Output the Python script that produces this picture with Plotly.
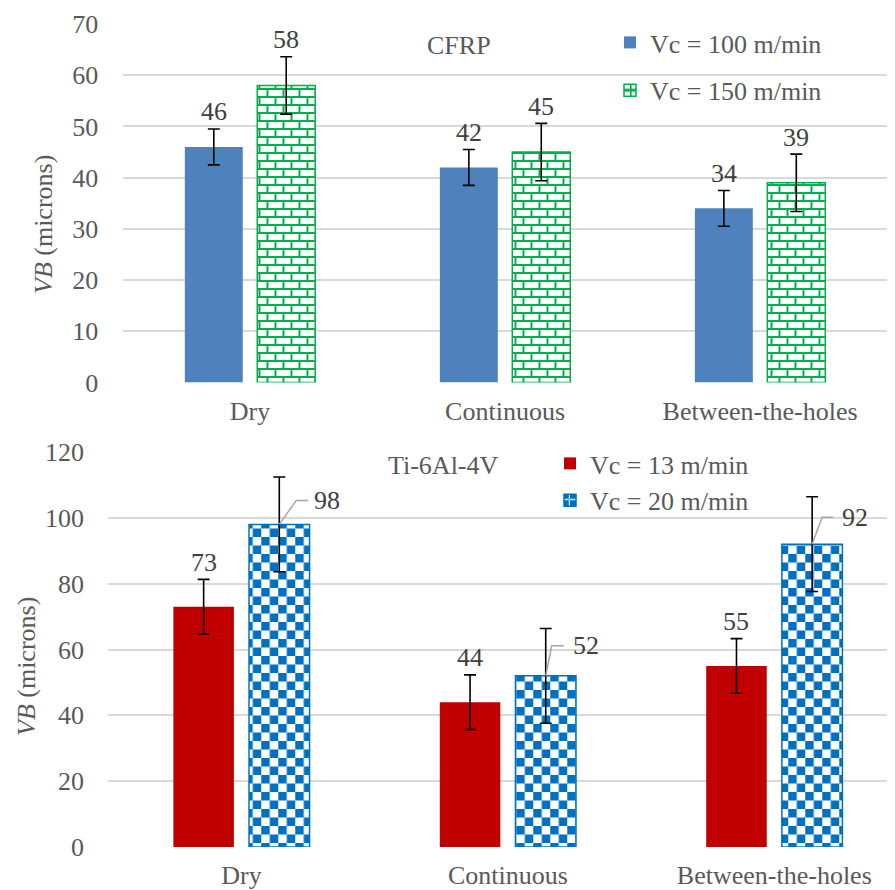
import plotly.graph_objects as go

# ---------------- data ----------------
categories = ["Dry", "Continuous", "Between-the-holes"]

cfrp_vc100 = [46, 42, 34]
cfrp_vc100_err = [3.5, 3.5, 3.5]
cfrp_vc150 = [58, 45, 39]
cfrp_vc150_err = [5.6, 5.6, 5.6]

ti_vc13 = [73, 44, 55]
ti_vc13_err = [8.3, 8.3, 8.3]
ti_vc20 = [98, 52, 92]
ti_vc20_err = [14.4, 14.4, 14.4]

cfrp_ticks = [0, 10, 20, 30, 40, 50, 60, 70]
ti_ticks = [0, 20, 40, 60, 80, 100, 120]

# ---------------- styles ----------------
FONT = "Liberation Serif, Times New Roman, serif"
FS = 26
TICKC = "#595959"
LABELC = "#404040"
GRID = "#D9D9D9"
BLUE = "#4F81BD"
GREEN = "#00B050"
RED = "#C00000"
CHECK = "#0070C0"
SLOT = 0.142  # half distance between the two bars of a group (axis units)

# page body has an 8px margin: figure sized to fill the rest of the 895x890 window
OFF = 8
W, H = 895 - OFF, 890 - OFF


def px(x):
    return (x - OFF) / W


def py(y):
    return 1 - (y - OFF) / H


def make_pattern(path, fallback_shape, color, size):
    try:
        p = go.bar.marker.Pattern(path=path, fgcolor=color, bgcolor="white",
                                  fillmode="replace", size=size)
    except Exception:
        p = go.bar.marker.Pattern(shape=fallback_shape, fgcolor=color, bgcolor="white",
                                  fillmode="replace", size=9, solidity=0.4)
    return p


brick = make_pattern("M0,0H16V2H0Z M0,8H16V10H0Z M0,2H2V8H0Z M8,10H10V16H8Z",
                     "+", GREEN, 16)
checker = make_pattern("M0,0H8.5V8.5H0Z M8.5,8.5H17V17H8.5Z", "x", CHECK, 17)

fig = go.Figure()

err_style = dict(type="data", visible=True, color="#000000", thickness=1.6, width=6)

fig.add_trace(go.Bar(x=categories, y=cfrp_vc100, name="Vc = 100 m/min",
                     marker=dict(color=BLUE, line=dict(width=0)),
                     error_y=dict(array=cfrp_vc100_err, **err_style),
                     xaxis="x", yaxis="y", legend="legend", legendgroup="a"))
fig.add_trace(go.Bar(x=categories, y=cfrp_vc150, name="Vc = 150 m/min",
                     marker=dict(color=GREEN, pattern=brick, line=dict(color=GREEN, width=1.5)),
                     error_y=dict(array=cfrp_vc150_err, **err_style),
                     xaxis="x", yaxis="y", legend="legend", legendgroup="b"))
fig.add_trace(go.Bar(x=categories, y=ti_vc13, name="Vc = 13 m/min",
                     marker=dict(color=RED, line=dict(width=0)),
                     error_y=dict(array=ti_vc13_err, **err_style),
                     xaxis="x2", yaxis="y2", legend="legend2", legendgroup="c"))
fig.add_trace(go.Bar(x=categories, y=ti_vc20, name="Vc = 20 m/min",
                     marker=dict(color=CHECK, pattern=checker, line=dict(color=CHECK, width=1.5)),
                     error_y=dict(array=ti_vc20_err, **err_style),
                     xaxis="x2", yaxis="y2", legend="legend2", legendgroup="d"))

annotations = []
shapes = []

lab_font = dict(family=FONT, size=FS, color=LABELC)


def add_labels(vals, errs, xref, yref, side):
    for i, (v, e) in enumerate(zip(vals, errs)):
        annotations.append(dict(x=i + side * SLOT, y=v + e, xref=xref, yref=yref,
                                text=str(v), showarrow=False, yshift=17,
                                xanchor="center", yanchor="middle", font=lab_font))


add_labels(cfrp_vc100, cfrp_vc100_err, "x", "y", -1)
add_labels(cfrp_vc150, cfrp_vc150_err, "x", "y", +1)
add_labels(ti_vc13, ti_vc13_err, "x2", "y2", -1)

# leader-line labels for the Vc = 20 series: (diag dx, diag dy, horizontal end x, text shift x)
leader_geom = [(17, 24, 29, 33), (6, 30, 18, 25), (10, 27, 21, 28)]
for i, v in enumerate(ti_vc20):
    dx, dy, hx, tx = leader_geom[i]
    shapes.append(dict(type="path", xref="x2", yref="y2", xsizemode="pixel",
                       ysizemode="pixel", xanchor=i + SLOT, yanchor=v,
                       path=f"M0,0 L{dx},{dy} L{hx},{dy}",
                       line=dict(color="#A6A6A6", width=1.5), layer="above"))
    annotations.append(dict(x=i + SLOT, y=v, xref="x2", yref="y2", text=str(v),
                            showarrow=False, xanchor="left", yanchor="middle",
                            xshift=tx, yshift=dy, font=lab_font))

txt_font = dict(family=FONT, size=FS, color=TICKC)
# panel titles
annotations.append(dict(x=px(459), y=py(45), xref="paper", yref="paper", text="CFRP",
                        showarrow=False, xanchor="center", yanchor="middle", font=txt_font))
annotations.append(dict(x=px(443), y=py(465), xref="paper", yref="paper", text="Ti-6Al-4V",
                        showarrow=False, xanchor="center", yanchor="middle", font=txt_font))
# axis titles
annotations.append(dict(x=px(43), y=py(225), xref="paper", yref="paper",
                        text="<i>VB</i> (microns)", textangle=-90, showarrow=False,
                        xanchor="center", yanchor="middle", font=txt_font))
annotations.append(dict(x=px(26), y=py(667), xref="paper", yref="paper",
                        text="<i>VB</i> (microns)", textangle=-90, showarrow=False,
                        xanchor="center", yanchor="middle", font=txt_font))

yax_common = dict(showgrid=True, gridcolor=GRID, gridwidth=1.5, zeroline=False,
                  showline=False, ticks="outside", ticklen=18, tickcolor="rgba(0,0,0,0)",
                  tickfont=txt_font)
xax_common = dict(showgrid=False, zeroline=False, showline=False, ticks="outside",
                  ticklen=5, tickcolor="rgba(0,0,0,0)", tickfont=txt_font,
                  type="category")

fig.update_layout(
    width=W, height=H, autosize=False,
    margin=dict(l=0, r=0, t=0, b=0, pad=0, autoexpand=False),
    paper_bgcolor="white", plot_bgcolor="white",
    barmode="group", bargap=0.432, bargroupgap=0.2,
    font=txt_font,
    xaxis=dict(domain=[px(122.5), 1.0], range=[-0.5, 2.529], anchor="y", **xax_common),
    yaxis=dict(domain=[py(382.5), py(24)], range=[0, 70], tickvals=cfrp_ticks,
               anchor="x", **yax_common),
    xaxis2=dict(domain=[px(108.25), 1.0], range=[-0.5, 2.453], anchor="y2", **xax_common),
    yaxis2=dict(domain=[py(847), py(452)], range=[0, 120], tickvals=ti_ticks,
                anchor="x2", **yax_common),
    legend=dict(x=px(610), y=py(19), xanchor="left", yanchor="top",
                bgcolor="rgba(0,0,0,0)", font=txt_font,
                tracegroupgap=11, traceorder="grouped"),
    legend2=dict(x=px(550), y=py(440), xanchor="left", yanchor="top",
                 bgcolor="rgba(0,0,0,0)", font=txt_font,
                 tracegroupgap=0, traceorder="normal"),
    annotations=annotations,
    shapes=shapes,
)

fig.write_html("out.html")
